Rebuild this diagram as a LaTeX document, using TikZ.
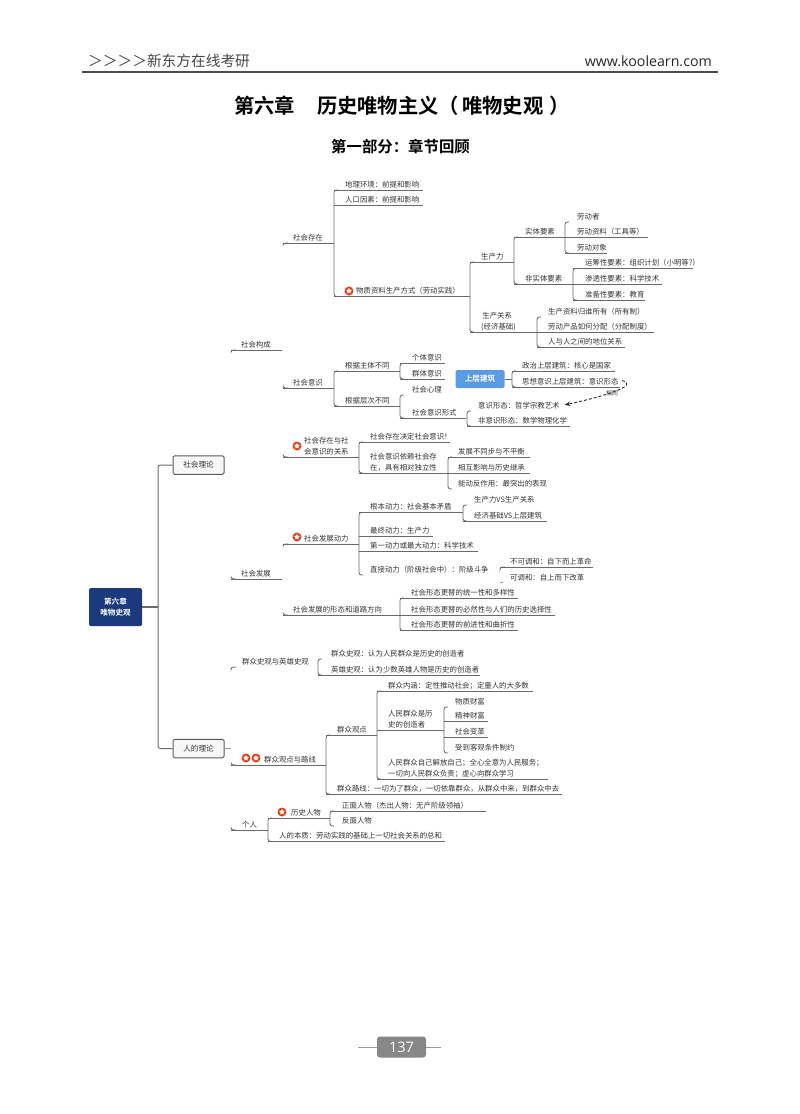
\documentclass[tikz,border=0pt]{standalone}
\usepackage{fontspec}
\setmainfont{Noto Sans CJK SC}[BoldFont={Noto Sans CJK SC Bold}]
\newfontfamily\latinf{Open Sans}
\usetikzlibrary{shapes.geometric,arrows.meta,calc}
\definecolor{ink}{HTML}{333333}
\definecolor{rulec}{HTML}{6A6A6A}
\definecolor{rootc}{HTML}{1A3A7D}
\definecolor{bluec}{HTML}{5A9BE6}
\definecolor{badgec}{HTML}{E0401E}
\definecolor{badgei}{HTML}{FFF3E0}
\tikzset{
  x=1pt,y=-1pt,
  lbl/.style={inner sep=0pt,anchor=south west,align=left,text depth=2pt,text=ink,
    font=\fontsize{7.4}{10.6}\selectfont},
  ln/.style={draw=rulec,line width=0.85pt},
  brk/.style={ln,rounded corners=2.5pt},
  mainbox/.style={draw=black!65,line width=1pt,fill=white!97!black,rounded corners=1.5pt,text=ink,
    font=\fontsize{7.6}{9}\selectfont,inner sep=0pt,minimum width=51pt,minimum height=18.5pt},
  badge/.style={circle,fill=badgec,inner sep=0pt,minimum size=9pt},
  badgein/.style={star,star points=5,star point ratio=1.7,fill=badgei,inner sep=0pt,minimum size=6pt},
}
% underlined topic: name, line start, line end, line y, text x, text
\newcommand{\tp}[6]{%
  \coordinate (#1-a) at (#2,#4);\coordinate (#1-b) at (#3,#4);
  \draw[ln] (#1-a) -- (#1-b);
  \node[lbl] (#1) at (#5,#4-0.8) {#6};}
% topic with no visible underline: name, line start, line y, text x, text
\newcommand{\tn}[5]{%
  \coordinate (#1-a) at (#2,#3);
  \node[lbl] (#1) at (#4,#3-0.8) {#5};}
% bracket between first and last child
\newcommand{\brk}[2]{\draw[brk] ($(#1-a)+(4,0)$) -- (#1-a) -- (#2-a) -- ($(#2-a)+(4,0)$);}
% small hook at a line's start
\newcommand{\hk}[2]{\draw[brk] ($(#1-a)+(5,0)$) -- (#1-a) -- ($(#1-a)+(0,#2)$);}
\newcommand{\bdg}[3]{\node[badge] (#1) at (#2,#3) {};\node[badgein] (#1i) at (#2,#3) {};}
\begin{document}
\begin{tikzpicture}
\useasboundingbox (0,0) rectangle (800,1114);
% header
\node[inner sep=0pt,anchor=west,text=black!72,font=\fontsize{14.7}{16}\selectfont] (hdl) at (88,61) {＞＞＞＞新东方在线考研};
\node[inner sep=0pt,anchor=east,text=black!85,font=\latinf\fontsize{14.2}{16}\selectfont] (hdr) at (712,61) {www.koolearn.com};
\coordinate (rl) at (82,71.7);\coordinate (rr) at (718,71.7);
\draw[line width=1.6pt,draw=black!70] (rl) -- (rr);
\node[inner sep=0pt,anchor=west,text=black,font=\bfseries\fontsize{20.3}{22}\selectfont] (title) at (234,106) {第六章\hspace{22pt}历史唯物主义（\hspace{3pt}唯物史观\hspace{6pt}）};
\node[inner sep=0pt,anchor=west,text=black,font=\bfseries\fontsize{15.4}{18}\selectfont] (sub) at (331,147) {第一部分：章节回顾};
% root and main branches
\node[fill=rootc,rounded corners=1.5pt,inner sep=0pt,minimum width=53pt,minimum height=38pt,align=center,text=white,font=\bfseries\fontsize{7.6}{10.5}\selectfont] (root) at (115.5,607) {第六章\\唯物史观};
\node[mainbox] (m1) at (198.5,465) {社会理论};
\node[mainbox] (m2) at (198.5,748.5) {人的理论};
\coordinate (sp) at (158,607);
\draw[ln,line width=1.3pt] (root.east) -- (sp);
\draw[brk,line width=1pt] (m1.west) -| (sp) |- (m2.west);
\coordinate (m2s) at (231,748.5);
\draw[ln,draw=rulec!70] (m2.east) -- (m2s);
% 社会存在
\tp{a1}{283}{334}{243}{293}{社会存在}\hk{a1}{2.5}
\tp{a11}{334}{423}{190}{345}{地理环境：前提和影响}
\tp{a12}{334}{423}{205}{345}{人口因素：前提和影响}
\tp{a13}{334}{470}{296.5}{356}{物质资料生产方式（劳动实践）}
\bdg{s1}{349}{291}
\brk{a11}{a13}
\tp{p1}{470}{514}{262}{481}{生产力}
\tp{p2}{470}{654}{332}{481}{\hspace*{0pt}\,生产关系\\(经济基础)}
\brk{p1}{p2}
\tp{q1}{514}{565}{237}{525}{实体要素}
\tp{q2}{514}{573}{284}{525}{非实体要素}
\brk{q1}{q2}
\tn{r1}{565}{222}{577}{劳动者}
\tp{r2}{565}{648}{237}{577}{劳动资料（工具等）}
\tp{r3}{565}{607}{253}{577}{劳动对象}
\brk{r1}{r3}
\tp{t1}{573}{693}{268.5}{585}{运筹性要素：组织计划（小明等?）}
\tp{t2}{573}{662}{284}{585}{渗透性要素：科学技术}
\tp{t3}{573}{645}{300}{585}{准备性要素：教育}
\brk{t1}{t3}
\tn{u1}{537}{317}{548}{生产资料归谁所有（所有制）}
\node[lbl] (u2) at (548,331.2) {劳动产品如何分配（分配制度）};
\coordinate (u2-a) at (537,332);
\tp{u3}{537}{625}{347}{548}{人与人之间的地位关系}
\brk{u1}{u3}
% 社会构成
\tp{b0}{231}{282}{350}{241}{社会构成}\hk{b0}{2.5}
% 社会意识
\tp{b1}{283}{334}{388}{293}{社会意识}\hk{b1}{-2.5}
\tp{c1}{334}{400}{371}{345}{根据主体不同}
\tp{c2}{334}{400}{406}{345}{根据层次不同}
\brk{c1}{c2}
\tp{d1}{400}{445}{363.5}{412}{个体意识}
\tp{d2}{400}{445}{379}{412}{群体意识}
\brk{d1}{d2}
\tn{e1}{400}{395}{412}{社会心理}
\tp{e2}{400}{466}{418}{412}{社会意识形式}
\brk{e1}{e2}
\tn{f1}{467}{411}{478}{意识形态：哲学宗教艺术}
\tp{f2}{467}{570}{426}{478}{非意识形态：数学物理化学}
\brk{f1}{f2}
\node[fill=bluec,rounded corners=1.5pt,inner sep=0pt,minimum width=49pt,minimum height=18pt,text=white,font=\bfseries\fontsize{7.6}{9}\selectfont] (sj) at (480,379) {上层建筑};
\tp{g1}{512}{615}{371}{522}{政治上层建筑：核心是国家}
\tp{g2}{512}{620}{387}{522}{思想意识上层建筑：意识形态}
\draw[ln] (sj.east) -- (512,379);
\brk{g1}{g2}
\coordinate (dc) at (622,380.5);
\draw[densely dashed,line width=0.9pt,draw=black!85,-{Stealth[length=5.5pt,width=4.5pt]}] (dc) .. controls (640,385) and (606,396) .. ($(f1.east)+(5,-1)$);
\node[inner sep=0pt,text=ink,font=\fontsize{5.8}{6}\selectfont] (xt) at (612,393) {相同};
% 关系
\tp{h}{283}{359}{457}{304}{社会存在与社\\会意识的关系}\hk{h}{-2.5}
\bdg{s2}{297}{446}
\tp{h1}{359}{450}{442}{370}{社会存在决定社会意识！}
\tp{h2}{359}{448}{473}{370}{社会意识依赖社会存\\在，具有相对独立性}
\brk{h1}{h2}
\tp{i1}{448}{530}{457}{458}{发展不同步与不平衡}
\tp{i2}{448}{530}{473}{458}{相互影响与历史继承}
\tn{i3}{448}{489}{458}{能动反作用：最突出的表现}
\brk{i1}{i3}
% 社会发展
\tp{k0}{231}{282}{579}{241}{社会发展}\hk{k0}{-2.5}
\tp{k}{283}{359}{544}{304}{社会发展动力}\hk{k}{2.5}
\bdg{s3}{297}{537}
\tp{k1}{359}{463}{512.5}{370}{根本动力：社会基本矛盾}
\tp{k2}{359}{433}{536}{370}{最终动力：生产力}
\tp{k3}{359}{478}{551}{370}{第一动力或最大动力：科学技术}
\tn{k4}{359}{575}{370}{直接动力（阶级社会中）：阶级斗争}
\brk{k1}{k4}
\tn{l1}{463}{505}{474}{生产力VS生产关系}
\tp{l2}{463}{547}{521}{474}{经济基础VS上层建筑}
\brk{l1}{l2}
\tp{n1}{500}{593}{567}{510}{不可调和：自下而上革命}
\tn{n2}{500}{583}{510}{可调和：自上而下改革}
\hk{n1}{1.5}
\coordinate (n2h) at (503,582);
\draw[ln,line width=0.6pt] (n2-a) -- (n2h);
\tp{o}{283}{400}{615}{293}{社会发展的形态和道路方向}\hk{o}{-2.5}
\tp{o1}{400}{518}{598}{411}{社会形态更替的统一性和多样性}
\tp{o2}{400}{555}{615}{411}{社会形态更替的必然性与人们的历史选择性}
\tp{o3}{400}{518}{630.5}{411}{社会形态更替的前进性和曲折性}
\brk{o1}{o3}
% 史观
\tn{v}{231}{667}{242}{群众史观与英雄史观}\hk{v}{1}
\tn{v1}{318}{659}{331}{群众史观：认为人民群众是历史的创造者}
\tp{v2}{318}{480}{675}{331}{英雄史观：认为少数英雄人物是历史的创造者}
\brk{v1}{v2}
% 群众观点与路线
\tp{w}{231}{326}{765}{264}{群众观点与路线}\hk{w}{-2.5}
\bdg{s4}{246}{758}\bdg{s5}{256}{758}
\tp{w1}{326}{377}{735}{337}{群众观点}
\tp{w2}{326}{562}{794}{337}{群众路线：一切为了群众，一切依靠群众，从群众中来，到群众中去}
\brk{w1}{w2}
\tp{x1}{377}{533}{691}{388}{群众内涵：定性推动社会；定量人的大多数}
\tp{x2}{377}{444}{730}{388}{人民群众是历\\史的创造者}
\tp{x3}{377}{548}{779}{388}{人民群众自己解放自己；全心全意为人民服务；\\一切向人民群众负责；虚心向群众学习}
\brk{x1}{x3}
\tn{y1}{444}{707}{455}{物质财富}
\tp{y2}{444}{488}{721.5}{455}{精神财富}
\tp{y3}{444}{488}{737.5}{455}{社会变革}
\tn{y4}{444}{753}{455}{受到客观条件制约}
\brk{y1}{y4}
% 个人
\tp{z}{231}{268}{830}{242}{个人}\hk{z}{-2.5}
\tp{z1}{268}{330}{818}{291}{历史人物}
\bdg{s6}{282}{812}
\tp{z2}{268}{445}{841.5}{279}{人的本质：劳动实践的基础上一切社会关系的总和}
\brk{z1}{z2}
\tp{z3}{330}{486}{811}{342}{正面人物（杰出人物：无产阶级领袖）}
\tn{z4}{330}{826}{342}{反面人物}
\brk{z3}{z4}
% page number
\node[fill=black!47,rounded corners=3pt,inner sep=0pt,minimum width=49pt,minimum height=21pt,text=white,font=\latinf\fontsize{14.5}{16}\selectfont] (pg) at (401.5,1047) {137};
\coordinate (pl) at (358,1047);\coordinate (pr) at (441,1047);
\draw[draw=black!40,line width=0.8pt] (pl) -- (pg.west) (pg.east) -- (pr);
\end{tikzpicture}
\end{document}
